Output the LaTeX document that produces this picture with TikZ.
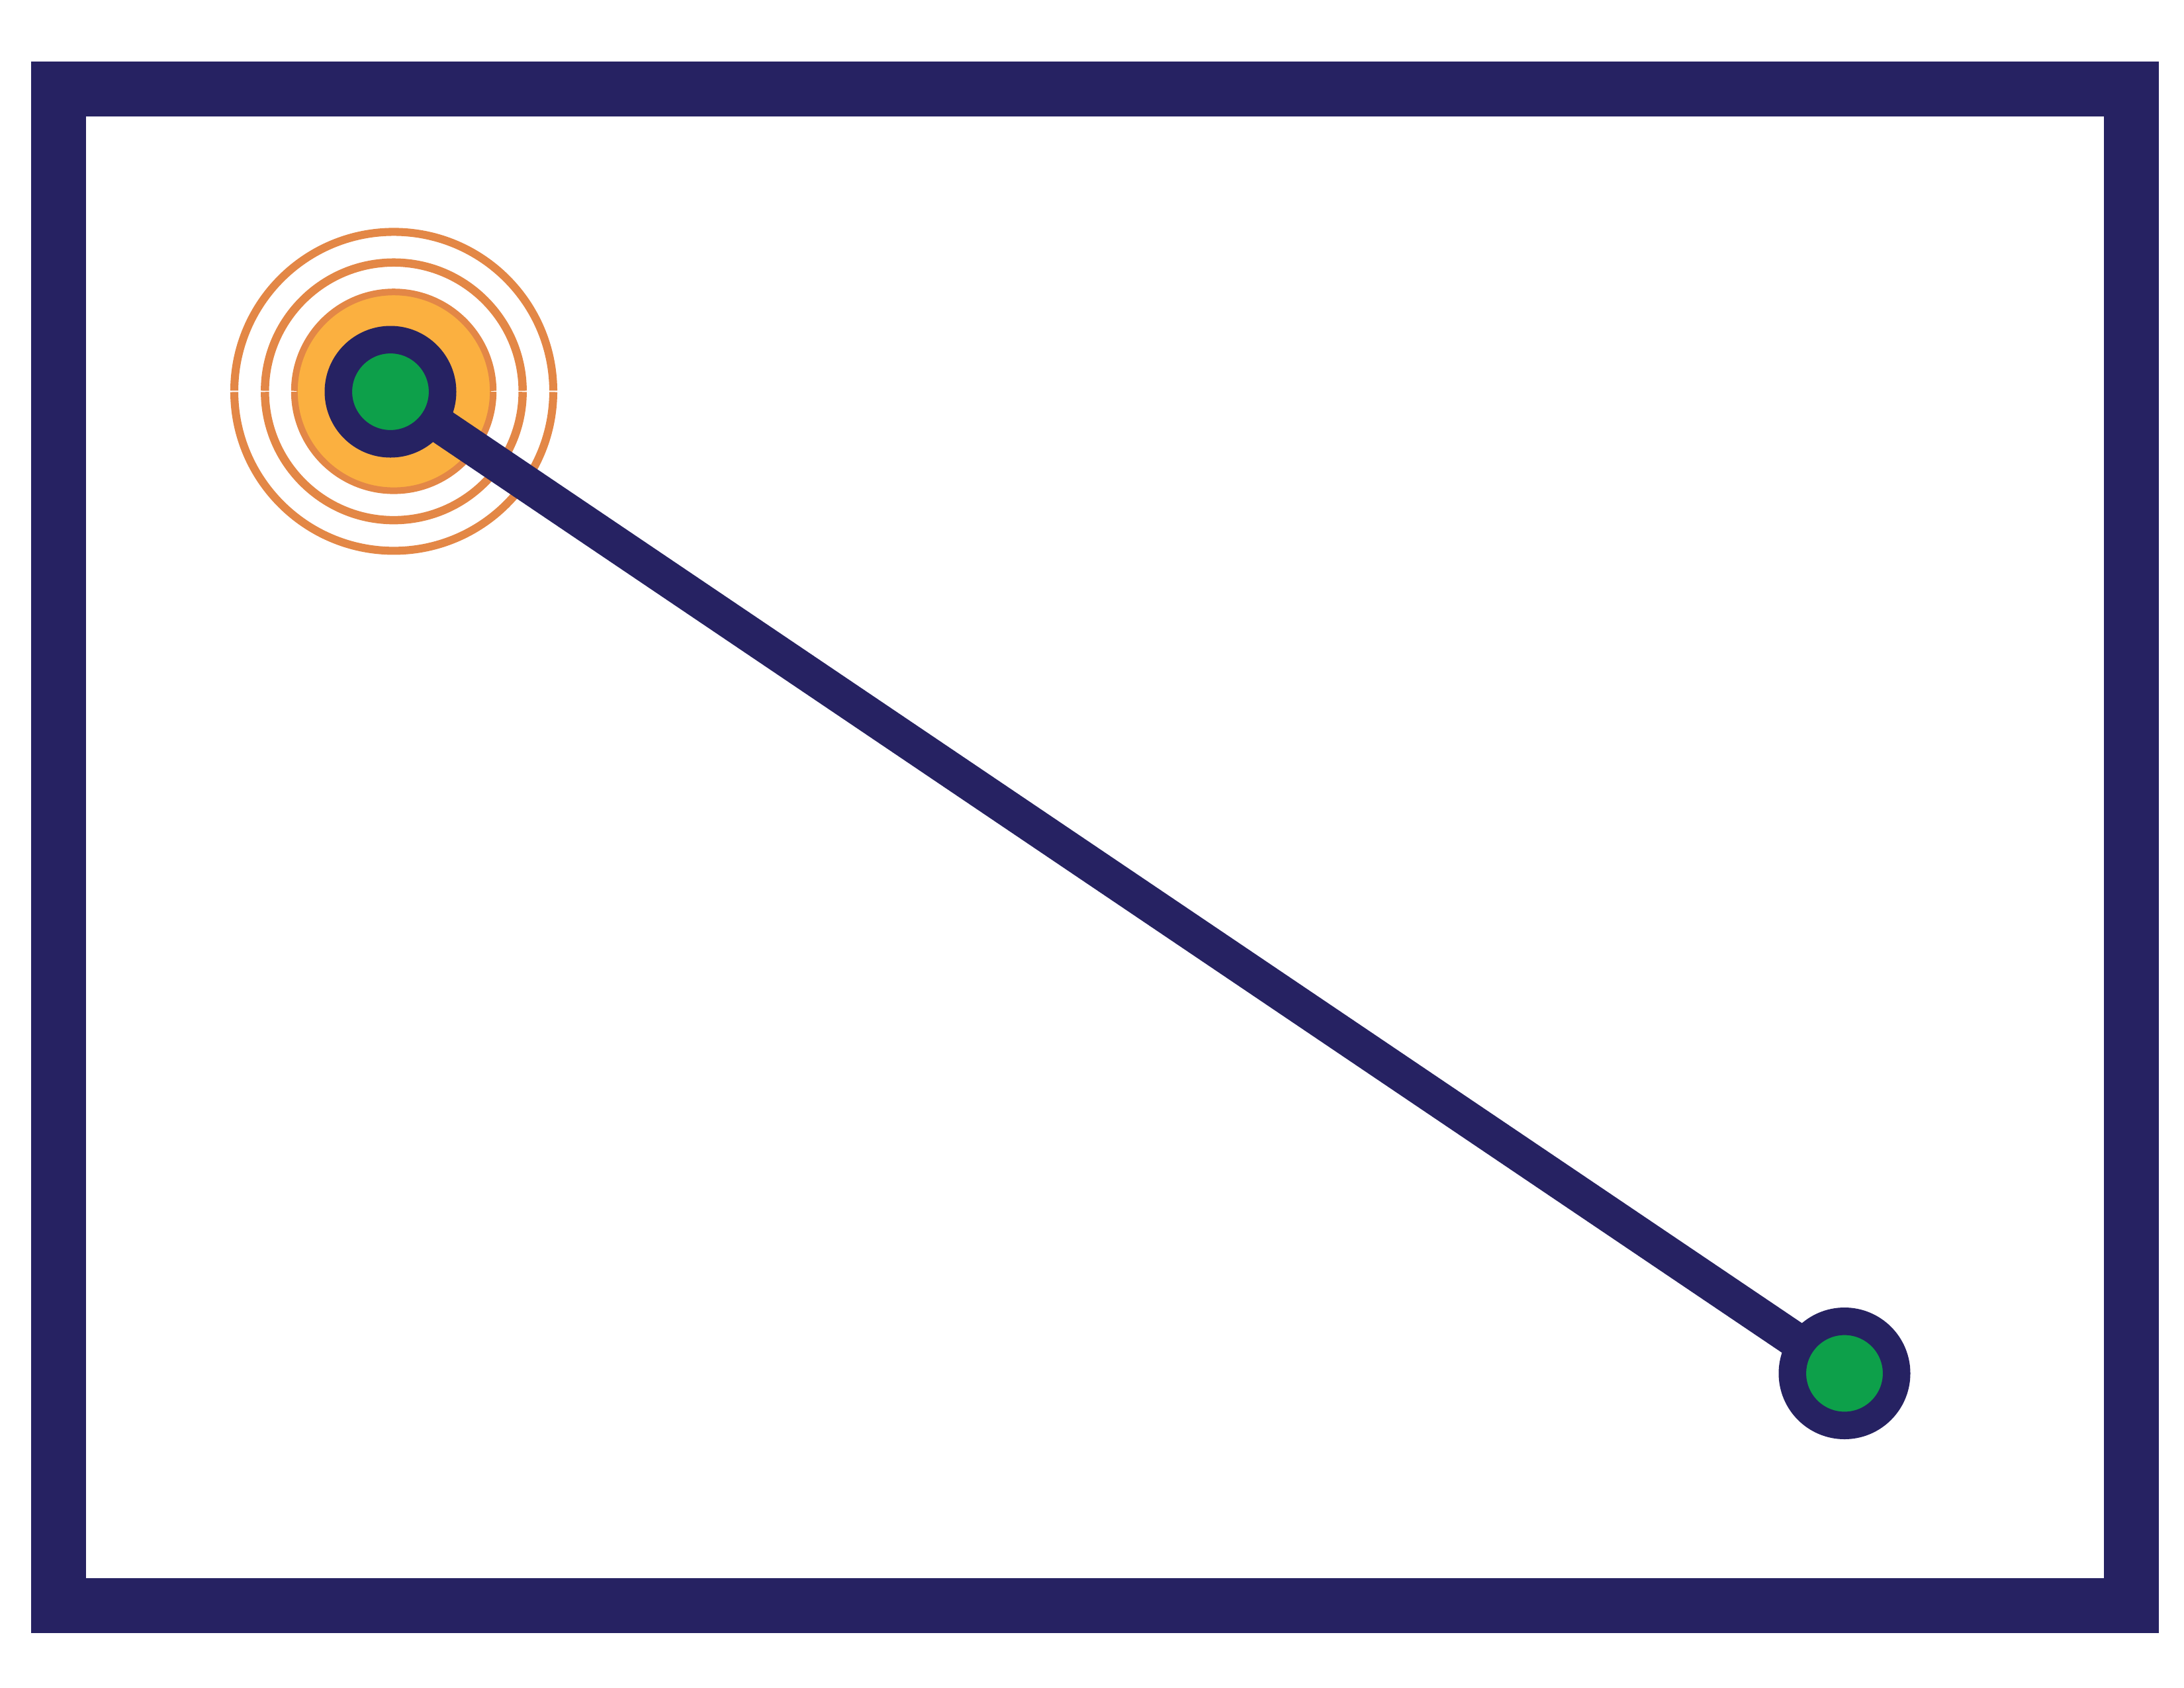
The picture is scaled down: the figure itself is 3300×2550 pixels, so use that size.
\documentclass[tikz,border=0pt]{standalone}
\definecolor{navy}{HTML}{262262}
\definecolor{dotgreen}{HTML}{0DA04A}
\definecolor{ringorange}{HTML}{E38746}
\definecolor{fillorange}{HTML}{FBB040}
\tikzset{
  frame/.style={draw=navy, line width=19.92pt},
  ring/.style={draw=ringorange},
  link/.style={draw=navy, line width=12.96pt},
  station/.style={circle, draw=navy, fill=dotgreen, line width=9.98pt, minimum size=37.78pt, inner sep=0pt, outer sep=0pt}
}
\begin{document}
\begin{tikzpicture}[x=0.24pt,y=-0.24pt]
\useasboundingbox (0,0) rectangle (3300,2550);
\draw[frame] (88.5,134.5) rectangle (3220,2426);
\coordinate (c0) at (595,591.4);
\fill[fillorange] (c0) circle[radius=147];
\foreach \r/\w in {241/2.9pt,194.7/3pt,150.2/2.4pt}{
  \draw[ring, line width=\w] (c0) ++(0.25:\r) arc[start angle=0.25,end angle=179.75,radius=\r];
  \draw[ring, line width=\w] (c0) ++(180.25:\r) arc[start angle=180.25,end angle=359.75,radius=\r];
}
\coordinate (p1) at (590,592);
\coordinate (p2) at (2787,2075.5);
\draw[link] (p1) -- (p2);
\node[station] (n1) at (p1) {};
\node[station] (n2) at (p2) {};
\end{tikzpicture}
\end{document}
